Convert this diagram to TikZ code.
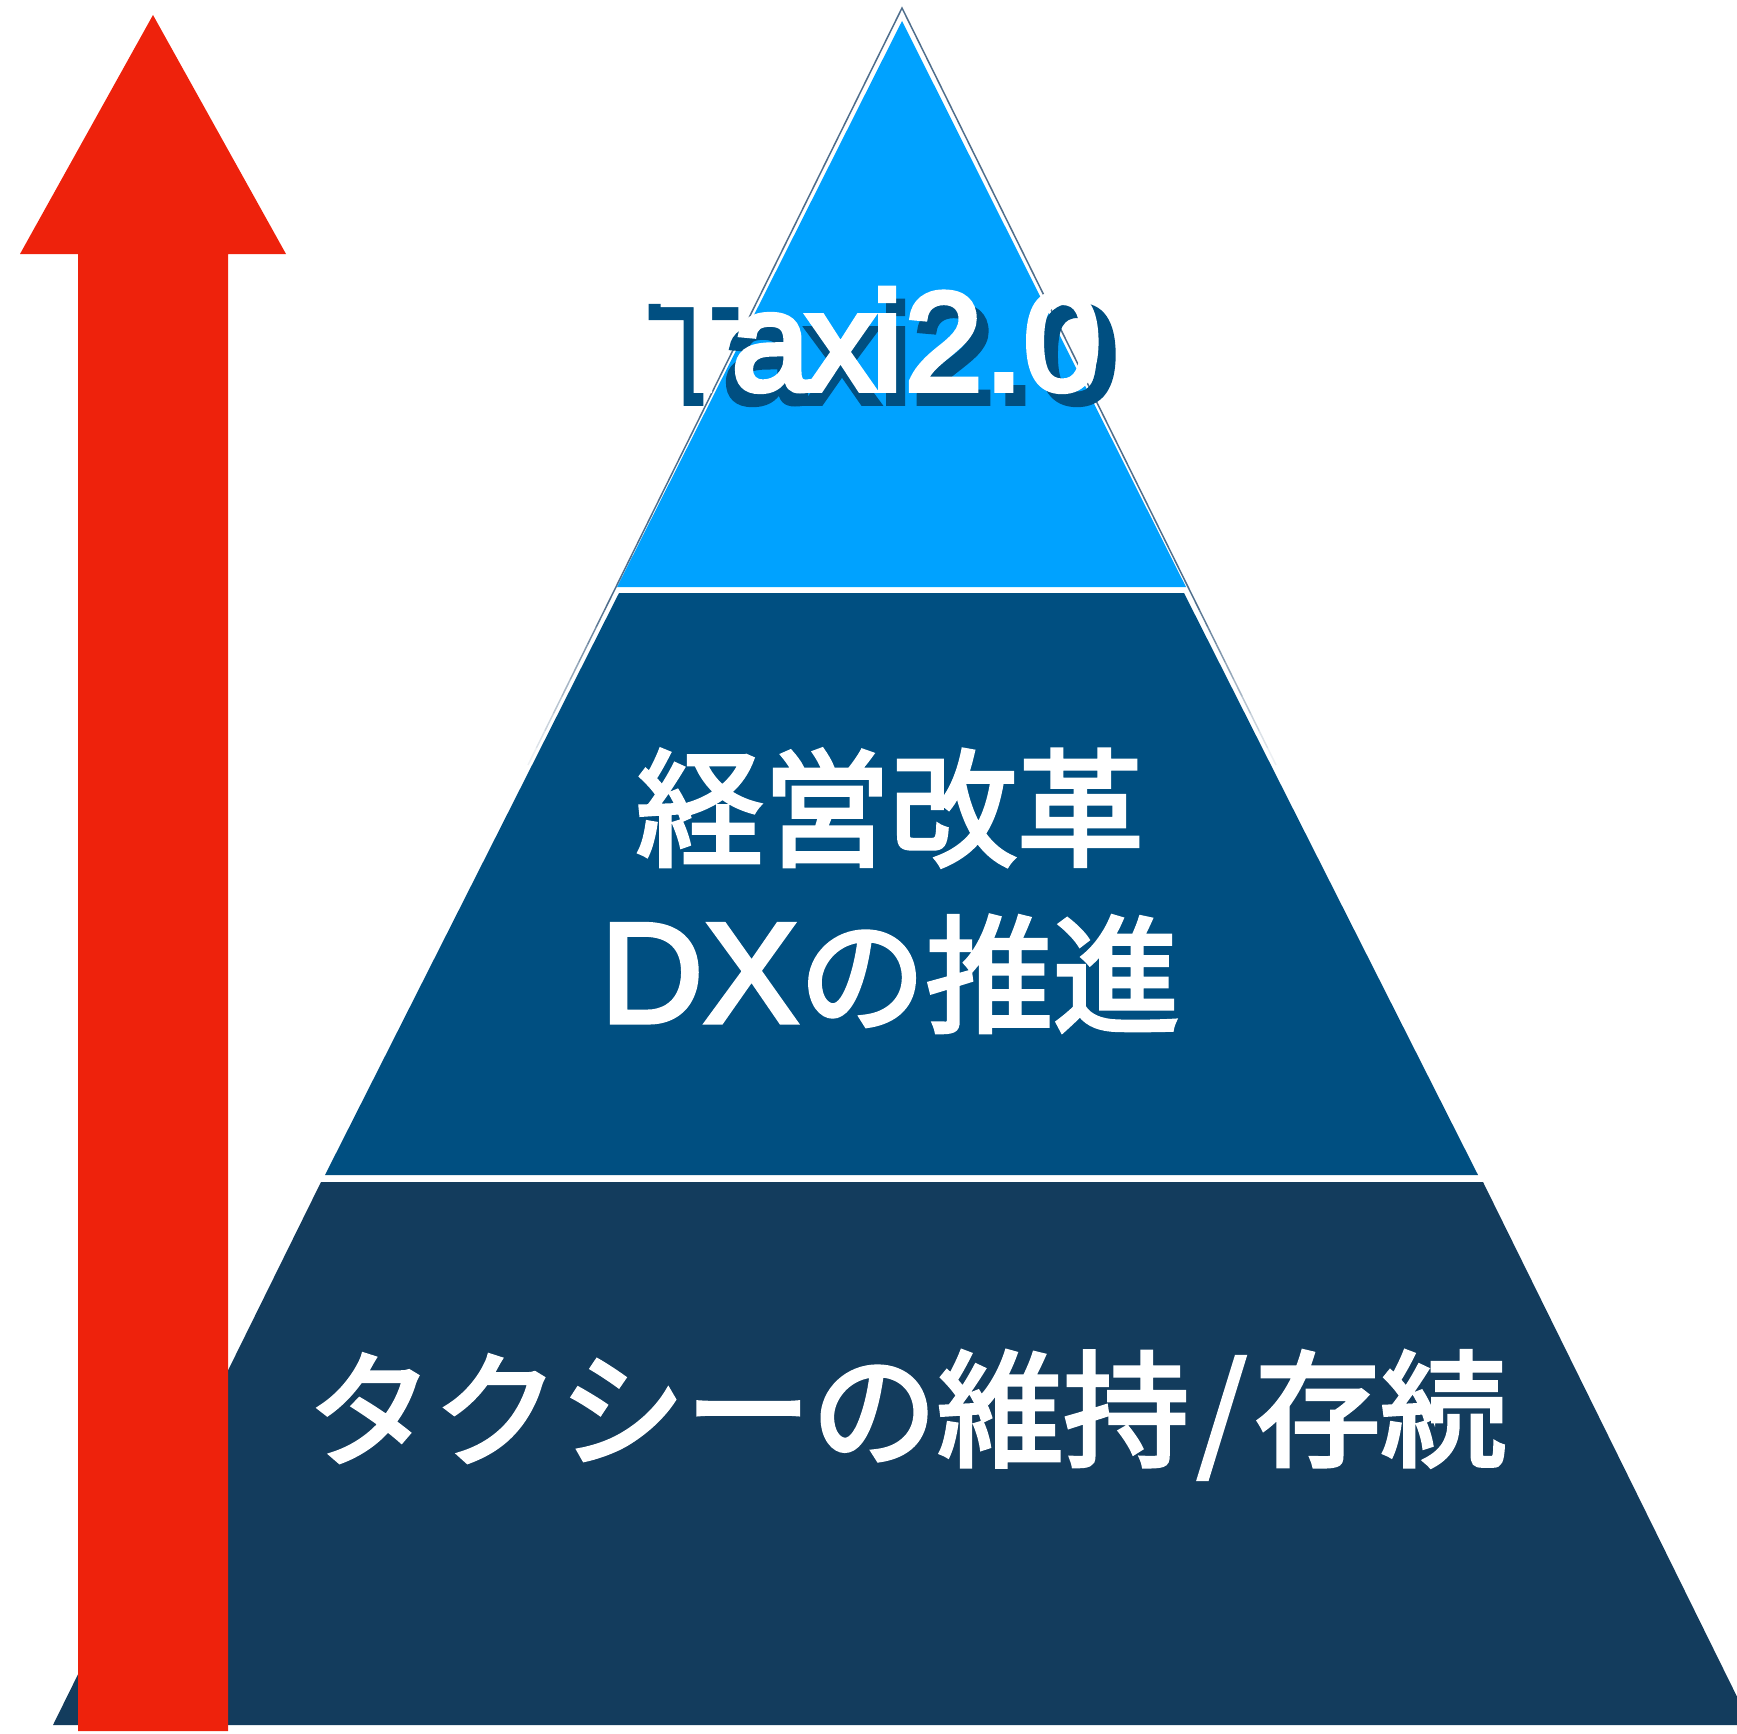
\documentclass[tikz,border=0pt]{standalone}
\usepackage{fontspec}
\usetikzlibrary{calc}
\newfontfamily\jpfont[FakeBold=3]{Noto Sans CJK JP}
\newfontfamily\latinfont[FakeBold=4]{Liberation Sans}
\newfontfamily\dxfont[FakeBold=3]{Liberation Sans}
\definecolor{topblue}{HTML}{00A2FF}
\definecolor{midblue}{HTML}{004F81}
\definecolor{botblue}{HTML}{133C5D}
\definecolor{arrowred}{HTML}{EE220C}
\definecolor{outl}{HTML}{4F6E8C}
\tikzset{
  layertext/.style={inner sep=0pt, text=white},
  jpbig/.style={layertext, font=\jpfont\fontsize{127}{150}\selectfont},
  jpbot/.style={layertext, font=\jpfont\fontsize{126}{150}\selectfont},
  taxifont/.style={inner sep=0pt, anchor=base west, font=\latinfont\fontsize{140}{160}\selectfont},
  outline/.style={outl, line width=1.5pt}
}
\begin{document}
\begin{tikzpicture}[x=1pt,y=-1pt]
\useasboundingbox (0,0) rectangle (1737,1734);
\begin{scope}
\clip (0,0) rectangle (1737,1734);
% layers
\fill[botblue] (321,1182) -- (1483,1182) -- (1751,1725) -- (53,1725) -- cycle;
\fill[midblue] (619,593) -- (1184,593) -- (1478,1175) -- (325,1175) -- cycle;
\fill[topblue] (902,21) -- (1186,587) -- (617,587) -- cycle;
% thin outer outline
\coordinate (apex) at (902,8);
\coordinate (oL) at (613,593);
\coordinate (oR) at (1191,593);
\coordinate (eL) at (528,765);
\coordinate (eR) at (1276,765);
\draw[outline] (oL) -- (apex) -- (oR);
\foreach \i in {0,...,9}{
  \pgfmathsetmacro{\op}{1-\i/10}
  \pgfmathsetmacro{\fa}{\i/10}
  \pgfmathsetmacro{\fb}{\i/10+0.1}
  \draw[outline, opacity=\op] ($(oL)!\fa!(eL)$) -- ($(oL)!\fb!(eL)$);
  \draw[outline, opacity=\op] ($(oR)!\fa!(eR)$) -- ($(oR)!\fb!(eR)$);
}
% title with shadow
\node[taxifont, text=midblue] (taxishadow) at (648,403) {\scalebox{1.06}[1]{Taxi2.0}};
\node[taxifont, text=white] (taxi) at (660,390) {T\kern-14pt a\kern-4pt x\kern-4pt i\kern2pt 2\kern2pt .\kern0pt 0};
% layer texts
\node[jpbig] (l1) at (890,808) {経営改革};
\node[jpbig] (l2) at (890,974) {{\dxfont\fontsize{143}{150}\selectfont DX}の推進};
\node[jpbot] (l3) at (907,1415) {タクシーの維持\kern8pt/\kern8pt 存続};
% arrow
\fill[arrowred] (153,15) -- (286,254) -- (228,254) -- (228,1731) -- (78,1731) -- (78,254) -- (20,254) -- cycle;
\end{scope}
\end{tikzpicture}
\end{document}
